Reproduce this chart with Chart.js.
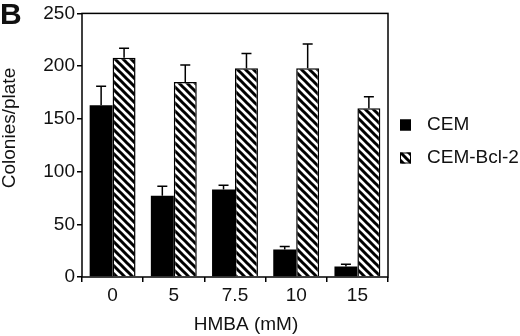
<!DOCTYPE html>
<html>
<head>
<meta charset="utf-8">
<script src="https://cdn.jsdelivr.net/npm/chart.js@4"></script>
<style>
  html, body { margin: 0; padding: 0; background: #fff; }
  #wrap { width: 520px; height: 336px; position: relative; }
</style>
</head>
<body>
<div id="wrap"><canvas id="chart" width="520" height="336"></canvas></div>
<script>
// HMBA doses (mM) on the x axis
const doses = ['0', '5', '7.5', '10', '15'];

// colonies per plate
const cemValues = [163, 77, 83, 26, 10];
const cemErrors = [18, 9, 4, 3, 2];
const bclValues = [208, 185, 198, 198, 160];
const bclErrors = [9, 16, 14, 23, 11];

const yTicks = [0, 50, 100, 150, 200, 250];

Chart.defaults.font.family = '"Liberation Sans", Arial, sans-serif';
Chart.defaults.color = '#111';

// diagonal hatch for the Bcl-2 bars
function makeHatch() {
  const c = document.createElement('canvas');
  c.width = 8;
  c.height = 8;
  const g = c.getContext('2d');
  g.fillStyle = '#fff';
  g.fillRect(0, 0, 8, 8);
  g.strokeStyle = '#000';
  g.lineWidth = 3;
  g.beginPath();
  g.moveTo(-2, -2); g.lineTo(10, 10);
  g.moveTo(-10, -2); g.lineTo(2, 10);
  g.moveTo(6, -2); g.lineTo(18, 10);
  g.stroke();
  return g.createPattern(c, 'repeat');
}
const hatch = makeHatch();

const errors = [cemErrors, bclErrors];

// upward error bars, frame, axis titles and legend
const extras = {
  id: 'extras',
  afterDatasetsDraw(chart) {
    const ctx = chart.ctx;
    const y = chart.scales.y;
    ctx.save();
    ctx.strokeStyle = '#000';
    ctx.lineWidth = 1.5;
    chart.data.datasets.forEach((ds, di) => {
      const meta = chart.getDatasetMeta(di);
      meta.data.forEach((bar, i) => {
        const top = y.getPixelForValue(ds.data[i] + errors[di][i]);
        ctx.beginPath();
        ctx.moveTo(bar.x, bar.y);
        ctx.lineTo(bar.x, top);
        ctx.moveTo(bar.x - 5, top);
        ctx.lineTo(bar.x + 5, top);
        ctx.stroke();
      });
    });
    ctx.restore();
  },
  afterDraw(chart) {
    const ctx = chart.ctx;
    const a = chart.chartArea;
    ctx.save();
    ctx.strokeStyle = '#000';
    ctx.lineWidth = 1.5;
    ctx.strokeRect(a.left, a.top, a.right - a.left, a.bottom - a.top);

    ctx.fillStyle = '#111';
    ctx.font = 'bold 30px "Liberation Sans", Arial, sans-serif';
    ctx.textAlign = 'left';
    ctx.textBaseline = 'top';
    ctx.fillText('B', 0, 1);

    ctx.font = '19px "Liberation Sans", Arial, sans-serif';
    ctx.textAlign = 'center';
    ctx.textBaseline = 'middle';
    ctx.fillText('HMBA (mM)', 246, 325);

    ctx.save();
    ctx.translate(10, 128);
    ctx.rotate(-Math.PI / 2);
    ctx.fillText('Colonies/plate', 0, 0);
    ctx.restore();

    const items = [
      { text: chart.data.datasets[0].label, fill: '#000', y: 125 },
      { text: chart.data.datasets[1].label, fill: hatch, y: 158 }
    ];
    ctx.textAlign = 'left';
    items.forEach(it => {
      ctx.fillStyle = it.fill;
      ctx.fillRect(400, it.y - 5.5, 11, 11);
      ctx.lineWidth = 1;
      ctx.strokeRect(400.5, it.y - 5, 10, 10);
      ctx.fillStyle = '#111';
      ctx.fillText(it.text, 427, it.y);
    });
    ctx.restore();
  }
};

new Chart(document.getElementById('chart'), {
  type: 'bar',
  data: {
    labels: doses,
    datasets: [
      {
        label: 'CEM',
        data: cemValues,
        backgroundColor: '#000',
        borderColor: '#000',
        borderWidth: 0,
        barPercentage: 1,
        categoryPercentage: 0.75
      },
      {
        label: 'CEM-Bcl-2',
        data: bclValues,
        backgroundColor: hatch,
        borderColor: '#000',
        borderWidth: 1.5,
        barPercentage: 1,
        categoryPercentage: 0.75
      }
    ]
  },
  options: {
    responsive: false,
    animation: false,
    layout: { padding: { left: 0, right: 132, top: 11, bottom: 0 } },
    plugins: {
      legend: { display: false },
      tooltip: { enabled: false }
    },
    scales: {
      x: {
        afterFit: s => { s.height = 59; },
        grid: {
          offset: true,
          drawOnChartArea: false,
          tickLength: 5,
          color: '#000',
          lineWidth: 1.5
        },
        border: { display: false },
        ticks: { font: { size: 19 }, color: '#111', padding: 2 }
      },
      y: {
        min: 0,
        max: 250,
        afterFit: s => { s.width = 82; },
        afterBuildTicks: s => { s.ticks = yTicks.map(v => ({ value: v })); },
        grid: {
          drawOnChartArea: false,
          tickLength: 5,
          color: '#000',
          lineWidth: 1.5
        },
        border: { display: false },
        ticks: { font: { size: 19 }, color: '#111', padding: 2 }
      }
    }
  },
  plugins: [extras]
});
</script>
</body>
</html>
